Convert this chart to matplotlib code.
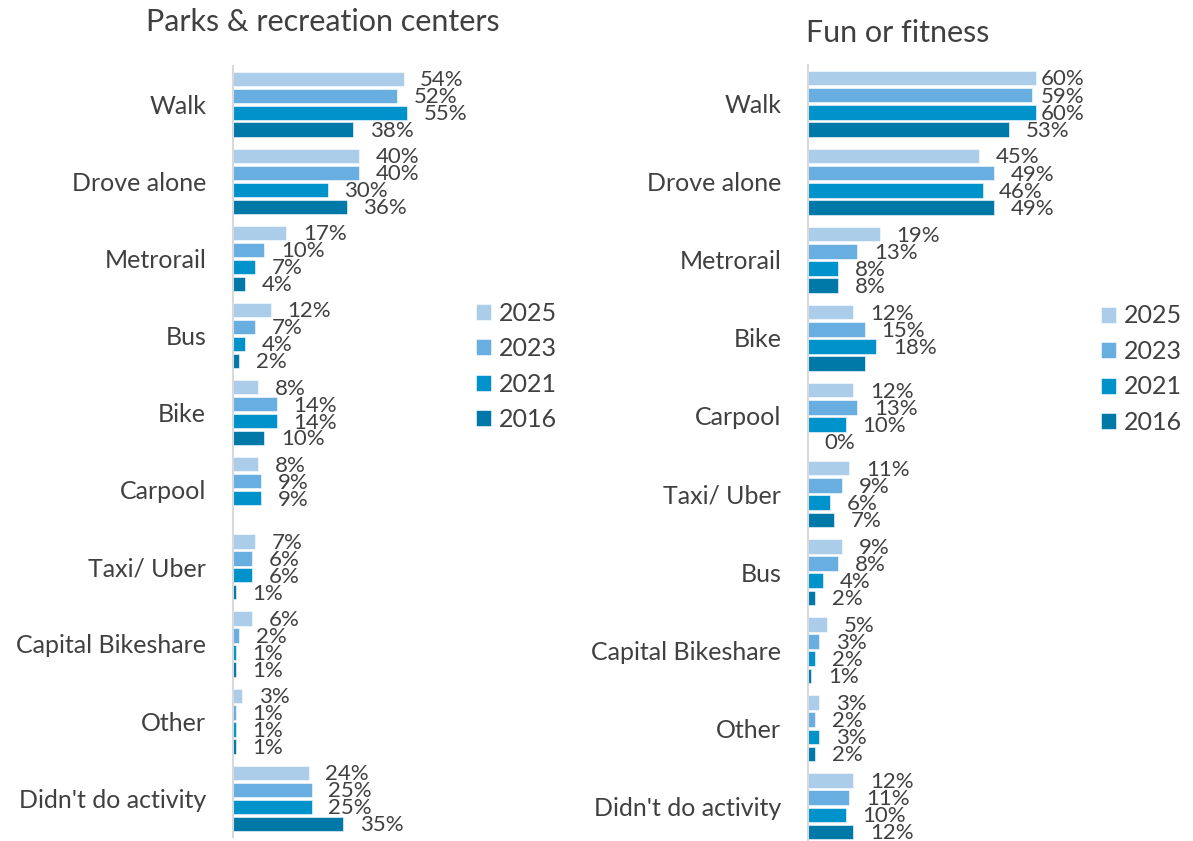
import numpy as np
import matplotlib.pyplot as plt

plt.rcParams['font.family'] = ['Lato', 'DejaVu Sans']

years = ['2025', '2023', '2021', '2016']
colors = ['#ABCDEA', '#68AEE0', '#0092CA', '#0078A8']

# Parks & recreation centers
parks_cats = ['Walk', 'Drove alone', 'Metrorail', 'Bus', 'Bike', 'Carpool',
              'Taxi/ Uber', 'Capital Bikeshare', 'Other', "Didn't do activity"]
parks_2025 = [54, 40, 17, 12, 8, 8, 7, 6, 3, 24]
parks_2023 = [52, 40, 10, 7, 14, 9, 6, 2, 1, 25]
parks_2021 = [55, 30, 7, 4, 14, 9, 6, 1, 1, 25]
parks_2016 = [38, 36, 4, 2, 10, np.nan, 1, 1, 1, 35]

# Fun or fitness
fun_cats = ['Walk', 'Drove alone', 'Metrorail', 'Bike', 'Carpool',
            'Taxi/ Uber', 'Bus', 'Capital Bikeshare', 'Other', "Didn't do activity"]
fun_2025 = [60, 45, 19, 12, 12, 11, 9, 5, 3, 12]
fun_2023 = [59, 49, 13, 15, 13, 9, 8, 3, 2, 11]
fun_2021 = [60, 46, 8, 18, 10, 6, 4, 2, 3, 10]
fun_2016 = [53, 49, 8, 15, 0, 7, 2, 1, 2, 12]
fun_2016_hidden = ['Bike']  # bar drawn without a data label

TXT = '#404040'

fig = plt.figure(figsize=(11.93, 8.41), dpi=100)


def panel(rect, title, title_xy, cats, series, hidden, label_max, legend_pos):
    ax = fig.add_axes(rect)
    y = np.arange(len(cats))
    pitch = 0.22
    for j, vals in enumerate(series):
        vals = np.array(vals, dtype=float)
        pos = y + (j - 1.5) * pitch
        ax.barh(pos, vals, height=0.185, color=colors[j], label=years[j],
                edgecolor='white', linewidth=0.4)
        for k, v in enumerate(vals):
            if np.isnan(v):
                continue
            if j == 3 and cats[k] in hidden:
                continue
            ax.annotate(f'{v:.0f}%', xy=(min(v, label_max), pos[k]),
                        xytext=(12, -1), textcoords='offset points',
                        ha='left', va='center', fontsize=16, color=TXT)
    ax.set_xlim(0, 75)
    ax.set_ylim(len(cats) - 0.5, -0.5)
    ax.set_yticks(y)
    ax.set_yticklabels(cats, fontsize=18, color=TXT)
    ax.tick_params(axis='y', length=0, pad=19)
    ax.set_xticks([])
    for s in ['top', 'right', 'bottom']:
        ax.spines[s].set_visible(False)
    ax.spines['left'].set_color('#D9D9D9')
    ax.spines['left'].set_linewidth(1.5)
    fig.text(title_xy[0], title_xy[1], title, fontsize=22, color=TXT,
             ha='left', va='center')
    ax.legend(loc='center left', bbox_to_anchor=legend_pos, frameon=False,
              fontsize=18, labelcolor=TXT, handlelength=0.6, handleheight=0.6,
              handletextpad=0.3, labelspacing=0.5)
    return ax


panel([0.195, 0.005, 0.199, 0.917], 'Parks & recreation centers',
      (146 / 1193, 1 - 22 / 841), parks_cats,
      [parks_2025, parks_2023, parks_2021, parks_2016], [], 100, (0.93, 0.61))
panel([0.677, -0.005, 0.239, 0.928], 'Fun or fitness',
      (806 / 1193, 1 - 33 / 841), fun_cats,
      [fun_2025, fun_2023, fun_2021, fun_2016], fun_2016_hidden, 57,
      (0.95, 0.61))

fig.savefig('out.png', dpi=100)
